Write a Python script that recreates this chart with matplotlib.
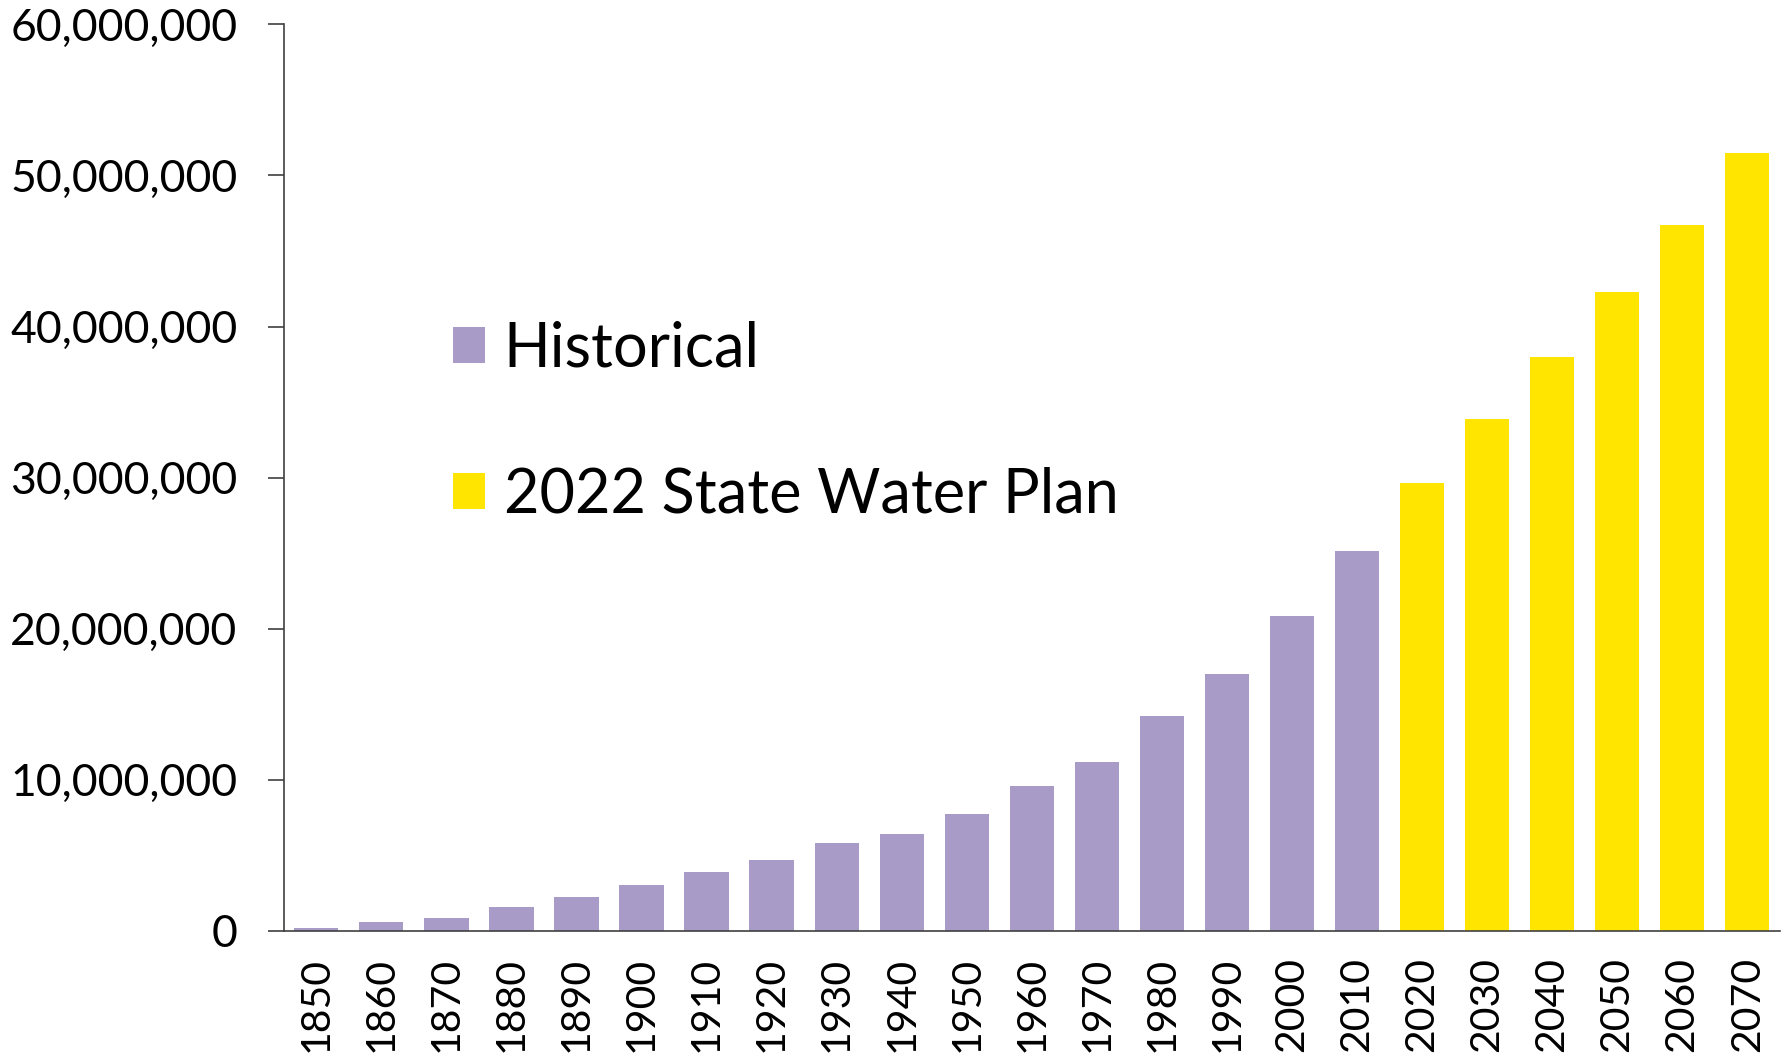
"""Texas population: historical census and 2022 State Water Plan projections."""

import matplotlib
matplotlib.use("Agg")
import matplotlib.pyplot as plt
import matplotlib.ticker as mticker

plt.rcParams.update({
    "font.family": ["Lato", "DejaVu Sans"],
    "font.size": 32,
})

HIST_COLOR = "#A99BC7"
PLAN_COLOR = "#FFE500"
AXIS_COLOR = "#404040"

hist_years = ["1850", "1860", "1870", "1880", "1890", "1900", "1910", "1920",
              "1930", "1940", "1950", "1960", "1970", "1980", "1990", "2000",
              "2010"]
hist_pop = [212_592, 604_215, 818_579, 1_591_749, 2_235_527, 3_048_710,
            3_896_542, 4_663_228, 5_824_715, 6_414_824, 7_711_194, 9_579_677,
            11_196_730, 14_229_191, 16_986_510, 20_851_820, 25_145_561]

plan_years = ["2020", "2030", "2040", "2050", "2060", "2070"]
plan_pop = [29_650_000, 33_900_000, 38_000_000, 42_300_000, 46_700_000,
            51_500_000]

fig, ax = plt.subplots(figsize=(17.85, 10.59), dpi=100)
fig.subplots_adjust(left=0.159, right=0.997, top=0.977, bottom=0.121)

n_hist = len(hist_years)
x_hist = list(range(n_hist))
x_plan = list(range(n_hist, n_hist + len(plan_years)))

b1 = ax.bar(x_hist, hist_pop, width=0.68, color=HIST_COLOR, label="Historical")
b2 = ax.bar(x_plan, plan_pop, width=0.68, color=PLAN_COLOR,
            label="2022 State Water Plan")

ax.set_xlim(-0.5, len(x_hist) + len(x_plan) - 0.5)
ax.set_ylim(0, 60_000_000)
ax.yaxis.set_major_locator(mticker.MultipleLocator(10_000_000))
ax.yaxis.set_major_formatter(mticker.FuncFormatter(lambda v, _: f"{v:,.0f}"))

ax.set_xticks(x_hist + x_plan)
ax.set_xticklabels(hist_years + plan_years, rotation=90, fontsize=29.5)
ax.tick_params(axis="x", length=0, pad=19)
ax.tick_params(axis="y", length=11.5, width=1.2, color=AXIS_COLOR, pad=22)

for side in ("top", "right"):
    ax.spines[side].set_visible(False)
for side in ("left", "bottom"):
    ax.spines[side].set_color(AXIS_COLOR)
    ax.spines[side].set_linewidth(1.2)

ax.legend(handles=[b1, b2], loc="upper left", bbox_to_anchor=(0.254, 0.697),
          bbox_transform=fig.transFigure, frameon=False, fontsize=44,
          handlelength=0.52, handleheight=0.52, handletextpad=0.3,
          labelspacing=1.45, borderpad=0, borderaxespad=0)

fig.savefig("out.png", dpi=100)
plt.close(fig)
